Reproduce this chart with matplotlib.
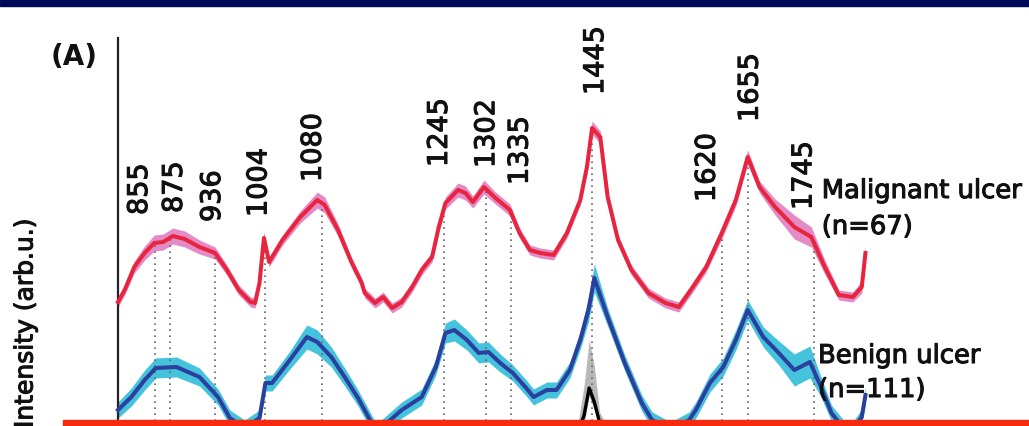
import numpy as np
import matplotlib
matplotlib.use("Agg")
import matplotlib.pyplot as plt
import matplotlib.patheffects as pe
from matplotlib.patches import Rectangle

# Raman shift (cm-1) and mean intensity (arb.u.)
malignant_shift = [805, 814, 827, 841, 854, 866, 879, 895, 915, 936, 952, 968, 984, 990, 996,
                   1002, 1009, 1027, 1051, 1074, 1084, 1102, 1120, 1134, 1138, 1152, 1163, 1175,
                   1188, 1202, 1215, 1229, 1238, 1247, 1264, 1274, 1284, 1299, 1313, 1334, 1347,
                   1361, 1375, 1393, 1411, 1429, 1438, 1445, 1456, 1466, 1480, 1498, 1521, 1544,
                   1562, 1581, 1599, 1620, 1639, 1655, 1671, 1692, 1718, 1741, 1759, 1778, 1797,
                   1809, 1814]
malignant_mean = [124, 136, 159, 173, 183, 184, 190, 187, 179, 173, 156, 136, 124, 123, 143,
                  188, 164, 186, 209, 226, 221, 196, 164, 143, 133, 123, 129, 118,
                  124, 139, 156, 169, 199, 223, 236, 233, 224, 239, 229, 216, 193,
                  176, 173, 171, 193, 226, 259, 298, 289, 229, 186, 156, 133, 123,
                  119, 139, 159, 193, 226, 269, 239, 219, 199, 189, 159, 131, 129,
                  139, 173]
malignant_sd = [5, 5, 6, 7, 8, 8, 8, 8, 7, 6, 5, 5, 5, 5, 5,
                6, 5, 5, 6, 8, 8, 6, 5, 5, 5, 5, 5, 5,
                5, 5, 5, 5, 5, 6, 7, 7, 6, 7, 6, 6, 5,
                5, 5, 5, 5, 5, 6, 7, 6, 5, 5, 5, 5, 5,
                5, 5, 5, 6, 6, 7, 6, 8, 12, 10, 7, 5, 5,
                6, 7]

benign_shift = [805, 823, 841, 856, 884, 915, 940, 956, 976, 996, 1004, 1013, 1037, 1060, 1074,
                1093, 1111, 1129, 1154, 1188, 1215, 1234, 1247, 1259, 1276, 1292, 1305, 1321,
                1338, 1356, 1366, 1384, 1397, 1415, 1429, 1440, 1448, 1466, 1489, 1512, 1526,
                1551, 1576, 1585, 1604, 1622, 1639, 1655, 1676, 1697, 1718, 1739, 1754, 1768,
                1792, 1809, 1814]
benign_mean = [16, 29, 46, 58, 59, 49, 29, 8, -2, 8, 43, 43, 66, 89, 84,
               69, 49, 28, -6, 16, 29, 59, 93, 96, 86, 73, 74, 63,
               53, 38, 29, 36, 36, 56, 86, 116, 148, 109, 63, 23, 6,
               -4, 6, 16, 43, 59, 86, 116, 89, 73, 56, 64, 39, 13,
               -9, 9, 31]
benign_sd = [8, 9, 10, 10, 10, 9, 8, 8, 8, 8, 8, 8, 9, 12, 12,
             10, 9, 8, 8, 8, 8, 8, 10, 11, 10, 10, 10, 9,
             8, 8, 8, 8, 8, 8, 9, 12, 14, 9, 8, 8, 8,
             8, 8, 8, 9, 9, 10, 10, 10, 12, 16, 16, 10, 8,
             8, 8, 8]

# third (normal) spectrum, only its 1445 band shows above the cut
normal_shift = [1397, 1425, 1434, 1441, 1448, 1455, 1480]
normal_mean = [-24, -6, 10, 38, 24, 4, -24]
normal_upper = [-20, -2, 40, 86, 60, 14, -20]
normal_lower = [-30, -12, 2, 30, 16, -4, -30]

# assigned bands
peaks = [855, 875, 936, 1004, 1080, 1245, 1302, 1335, 1445, 1620, 1655, 1745]
peak_label_y = [211, 213, 204, 209, 244, 259, 258, 241, 331, 224, 304, 216]
peak_label_dx = [-15, 5, -2, -6, -8, -4, 1, 10, 4, -14, 3, -10]

W, H = 1029, 426
fig = plt.figure(figsize=(W / 100, H / 100), dpi=100)
ax = fig.add_axes([0, 0, 1, 1])
ax.set_xlim(805 - 118 / 0.7408, 805 + (W - 118) / 0.7408)
ax.set_ylim(0, H)

m_x = np.array(malignant_shift)
m_y = np.array(malignant_mean)
m_s = np.array(malignant_sd)
b_x = np.array(benign_shift)
b_y = np.array(benign_mean)
b_s = np.array(benign_sd)

# shaded +/- sd bands
ax.fill_between(m_x, m_y - m_s, m_y + m_s, color="#e48ac6", lw=0, zorder=1)
ax.fill_between(b_x, b_y - b_s, b_y + b_s, color="#45c2dc", lw=0, zorder=1)
ax.fill_between(normal_shift, normal_lower, normal_upper, color="#b8b8b8", lw=0, zorder=1)

# dotted guides from the malignant curve down
tops = np.interp(peaks, m_x, m_y)
for p, t in zip(peaks, tops):
    ax.plot([p, p], [-10, t], color="#666666", lw=1.2, dashes=(1, 2.6), zorder=1.5)

ax.plot(m_x, m_y, color="#e8253d", lw=2.9, zorder=3)
ax.plot(b_x, b_y, color="#2b3f9e", lw=2.9, zorder=3)
ax.plot(normal_shift, normal_mean, color="black", lw=2.4, zorder=3)

heavy = [pe.withStroke(linewidth=0.8, foreground="#111111")]
for p, ly, dx in zip(peaks, peak_label_y, peak_label_dx):
    ax.annotate(str(p), xy=(p, ly), xytext=(dx, 0), textcoords="offset pixels",
                rotation=90, ha="center", va="bottom", fontsize=19.5, color="#111111",
                path_effects=heavy)

ax.text(1755, 228, "Malignant ulcer", fontsize=18.6, color="#111111", va="baseline",
        path_effects=heavy)
ax.text(1755, 192, "(n=67)", fontsize=18.6, color="#111111", va="baseline", path_effects=heavy)
ax.text(1750, 63, "Benign ulcer", fontsize=18.6, color="#111111", va="baseline",
        path_effects=heavy)
ax.text(1750, 29, "(n=111)", fontsize=18.6, color="#111111", va="baseline", path_effects=heavy)

# only a left axis line
for s in ["top", "right", "bottom"]:
    ax.spines[s].set_visible(False)
ax.spines["left"].set_position(("data", 805))
ax.spines["left"].set_bounds(-20, 388)
ax.spines["left"].set_linewidth(1.6)
ax.spines["left"].set_color("#222222")
ax.set_xticks([])
ax.set_yticks([])
ax.patch.set_alpha(0)

fig.text(25.5 / W, -2 / H, "Intensity (arb.u.)", rotation=90, ha="center", va="bottom",
         fontsize=18, color="#111111", path_effects=heavy)
fig.text(51 / W, 1 - 43 / H, "(A)", fontsize=20, fontweight="bold", ha="left", va="top",
         color="#111111")

# page decorations: navy band on top, red bar at the bottom
fig.patches.append(Rectangle((0, 1 - 6 / H), 1, 6 / H, transform=fig.transFigure,
                             color="#000a58", zorder=10))
fig.patches.append(Rectangle((63 / W, 0), 1, 6 / H, transform=fig.transFigure,
                             color="#f72a10", zorder=10))

fig.savefig("out.png", dpi=100)
